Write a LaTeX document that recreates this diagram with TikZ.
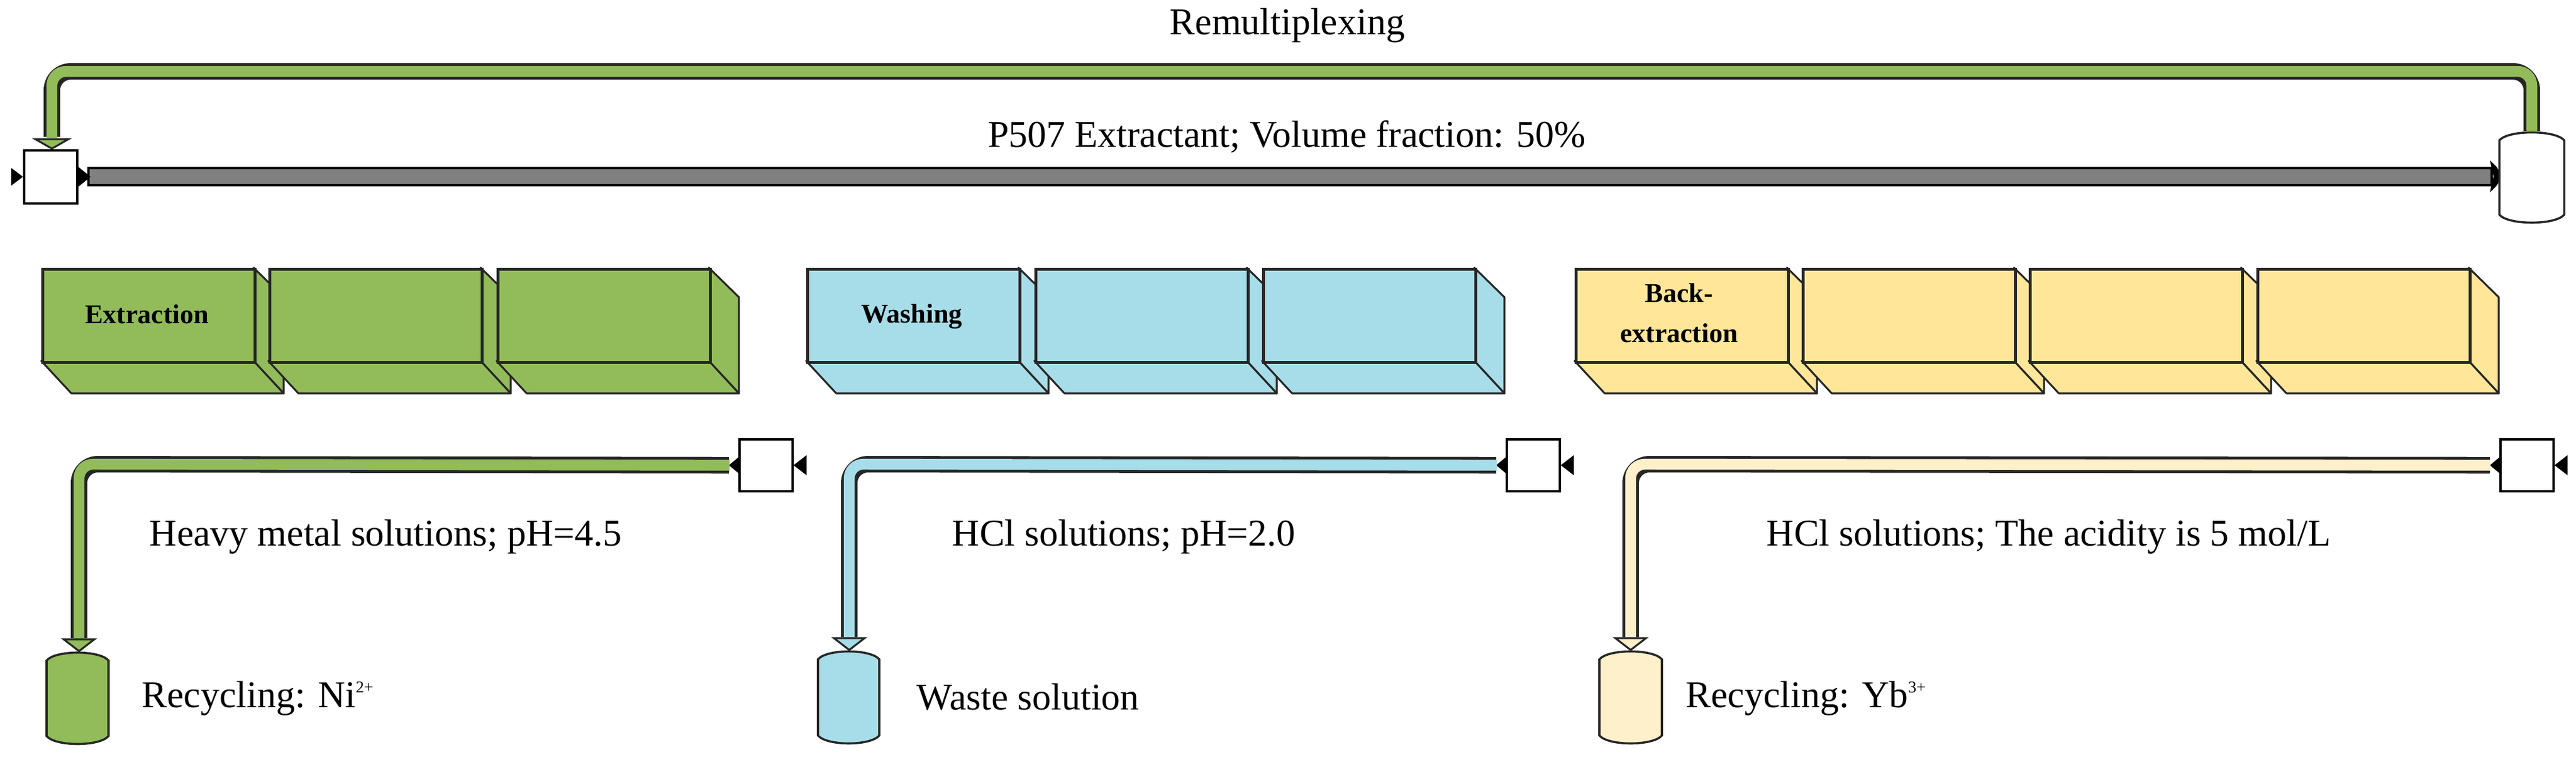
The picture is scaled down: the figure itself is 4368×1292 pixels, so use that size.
\documentclass[tikz,border=0pt]{standalone}
\usepackage{fontspec}
\setmainfont{Liberation Serif}
\definecolor{gr}{HTML}{92BC5A}
\definecolor{bl}{HTML}{A7DDE8}
\definecolor{ye}{HTML}{FFE699}
\definecolor{lye}{HTML}{FFF0CC}
\definecolor{gy}{HTML}{808080}
\newcommand\mycell[3]{% x, color, name
  \fill[#2,draw=black!85,line width=0.8pt,line join=round] ({#1+360},454) -- ({#1+411},504) -- ({#1+411},667) -- ({#1+360},612) -- cycle;
  \fill[#2,draw=black!85,line width=0.8pt,line join=round] (#1,612) -- ({#1+360},612) -- ({#1+411},667) -- ({#1+51},667) -- cycle;
  \node[cellf,fill=#2] (#3) at (#1,454) {};
}
\newcommand\mycyl[5]{% x1,x2,top,bottom,color
  \filldraw[fill=#5,draw=black!85,line width=0.9pt] (#1,{#3+16}) .. controls ({#1+15},{#3-2}) and ({#2-15},{#3-2}) .. (#2,{#3+16}) -- (#2,{#4-16}) .. controls ({#2-15},{#4+2}) and ({#1+15},{#4+2}) .. (#1,{#4-16}) -- cycle;
}
\tikzset{
  cellf/.style={draw=black!85,line width=1.2pt,anchor=north west,minimum width=90pt,minimum height=39.5pt,inner sep=0pt},
  pump/.style={draw=black,fill=white,line width=0.9pt,minimum width=22.5pt,minimum height=22pt,inner sep=0pt,anchor=north west},
  lbl/.style={font=\fontsize{16}{18}\selectfont,anchor=west,inner sep=0pt},
  blbl/.style={font=\fontsize{11.5}{17}\selectfont\bfseries,align=center,inner sep=0pt},
  pipeo/.style={line width=7pt,draw=black!85,rounded corners=8pt},
  pipei/.style={line width=4.6pt,rounded corners=6pt},
  tipb/.style={fill=black},
}
\begin{document}
\begin{tikzpicture}[x=0.25pt,y=-0.25pt]
\useasboundingbox (0,0) rectangle (4368,1292);
% top texts
\node[font=\fontsize{16}{18}\selectfont] (remux) at (2183,43) {Remultiplexing};
\node[font=\fontsize{16}{18}\selectfont] (p507) at (2182,232) {P507 Extractant; Volume fraction: 50\%};
% top pump and tank
\node[pump,minimum height=22.5pt] (p0) at (39,253) {};
\coordinate (t0) at (4293,222);
% remultiplexing pipe
\draw[pipeo] (t0) -- (4293,121) -- (88,121) -- (88,232);
\draw[pipei,gr] (t0) -- (4293,121) -- (88,121) -- (88,234);
\filldraw[fill=gr,draw=black!85,line width=0.8pt] (60,236) -- (116,236) -- (88,252) -- cycle;
% gray extractant bar
\filldraw[fill=gy,draw=black,line width=1.2pt] (150,285) rectangle (4225,314);
\fill[tipb] (4222,272) .. controls (4236,285) .. (4240,299) .. controls (4236,313) .. (4222,326) -- (4228,299) -- cycle;
\fill[tipb] (p0.east) ++(0,-17) -- ++(21,17) -- ++(-21,17) -- cycle;
\fill[tipb] (p0.west) ++(-20,-15) -- ++(20,15) -- ++(-20,15) -- cycle;
\mycyl{4238}{4348}{222}{380}{white}
% cells
\mycell{70}{gr}{e1}\mycell{455}{gr}{e2}\mycell{842}{gr}{e3}
\mycell{1367}{bl}{w1}\mycell{1754}{bl}{w2}\mycell{2140}{bl}{w3}
\mycell{2670}{ye}{b1}\mycell{3055}{ye}{b2}\mycell{3440}{ye}{b3}\mycell{3826}{ye}{b4}
\node[blbl] at (249,533) {Extraction};
\node[blbl] at (1546,537) {Washing};
\node[blbl] at (2847,531) {Back-\\extraction};
% lower pumps
\node[pump] (p1) at (1252,743) {};
\node[pump] (p2) at (2553,743) {};
\node[pump] (p3) at (4238,743) {};
\foreach \p in {p1,p2,p3}{
  \fill[tipb] (\p.east) ++(22,-17) -- ++(-22,17) -- ++(22,17) -- cycle;
  \fill[tipb] (\p.west) ++(2,-15) -- ++(-18,15) -- ++(18,15) -- cycle;
}
% tanks
\coordinate (c1) at (134,1104);
\coordinate (c2) at (1440,1102);
\coordinate (c3) at (2765,1102);
\newcommand\lowpipe[4]{% pump, x, tank, color
  \draw[pipeo] ([xshift=-4pt]#1.west) -- (#2,787) -- ([yshift=5.5pt]#3);
  \draw[pipei,#4] ([xshift=-3.75pt]#1.west) -- (#2,787) -- ([yshift=5pt]#3);
  \filldraw[fill=#4,draw=black!85,line width=0.8pt] ([xshift=-6.5pt,yshift=5pt]#3) -- ([xshift=6.5pt,yshift=5pt]#3) -- (#3) -- cycle;
}
\lowpipe{p1}{134}{c1}{gr}
\lowpipe{p2}{1440}{c2}{bl}
\lowpipe{p3}{2765}{c3}{lye}
\mycyl{79}{184}{1104}{1264}{gr}
\mycyl{1387}{1491}{1102}{1263}{bl}
\mycyl{2712}{2818}{1102}{1263}{lye}
% labels
\node[lbl] (l1) at (253,910) {Heavy metal solutions; pH=4.5};
\node[lbl] (l2) at (1614,910) {HCl solutions; pH=2.0};
\node[lbl] (l3) at (2995,910) {HCl solutions; The acidity is 5 mol/L};
\node[lbl] (r1) at (240,1184) {Recycling: Ni\textsuperscript{\scriptsize 2+}};
\node[lbl] (r2) at (1554,1182) {Waste solution};
\node[lbl] (r3) at (2858,1184) {Recycling: Yb\textsuperscript{\scriptsize 3+}};
\end{tikzpicture}
\end{document}
